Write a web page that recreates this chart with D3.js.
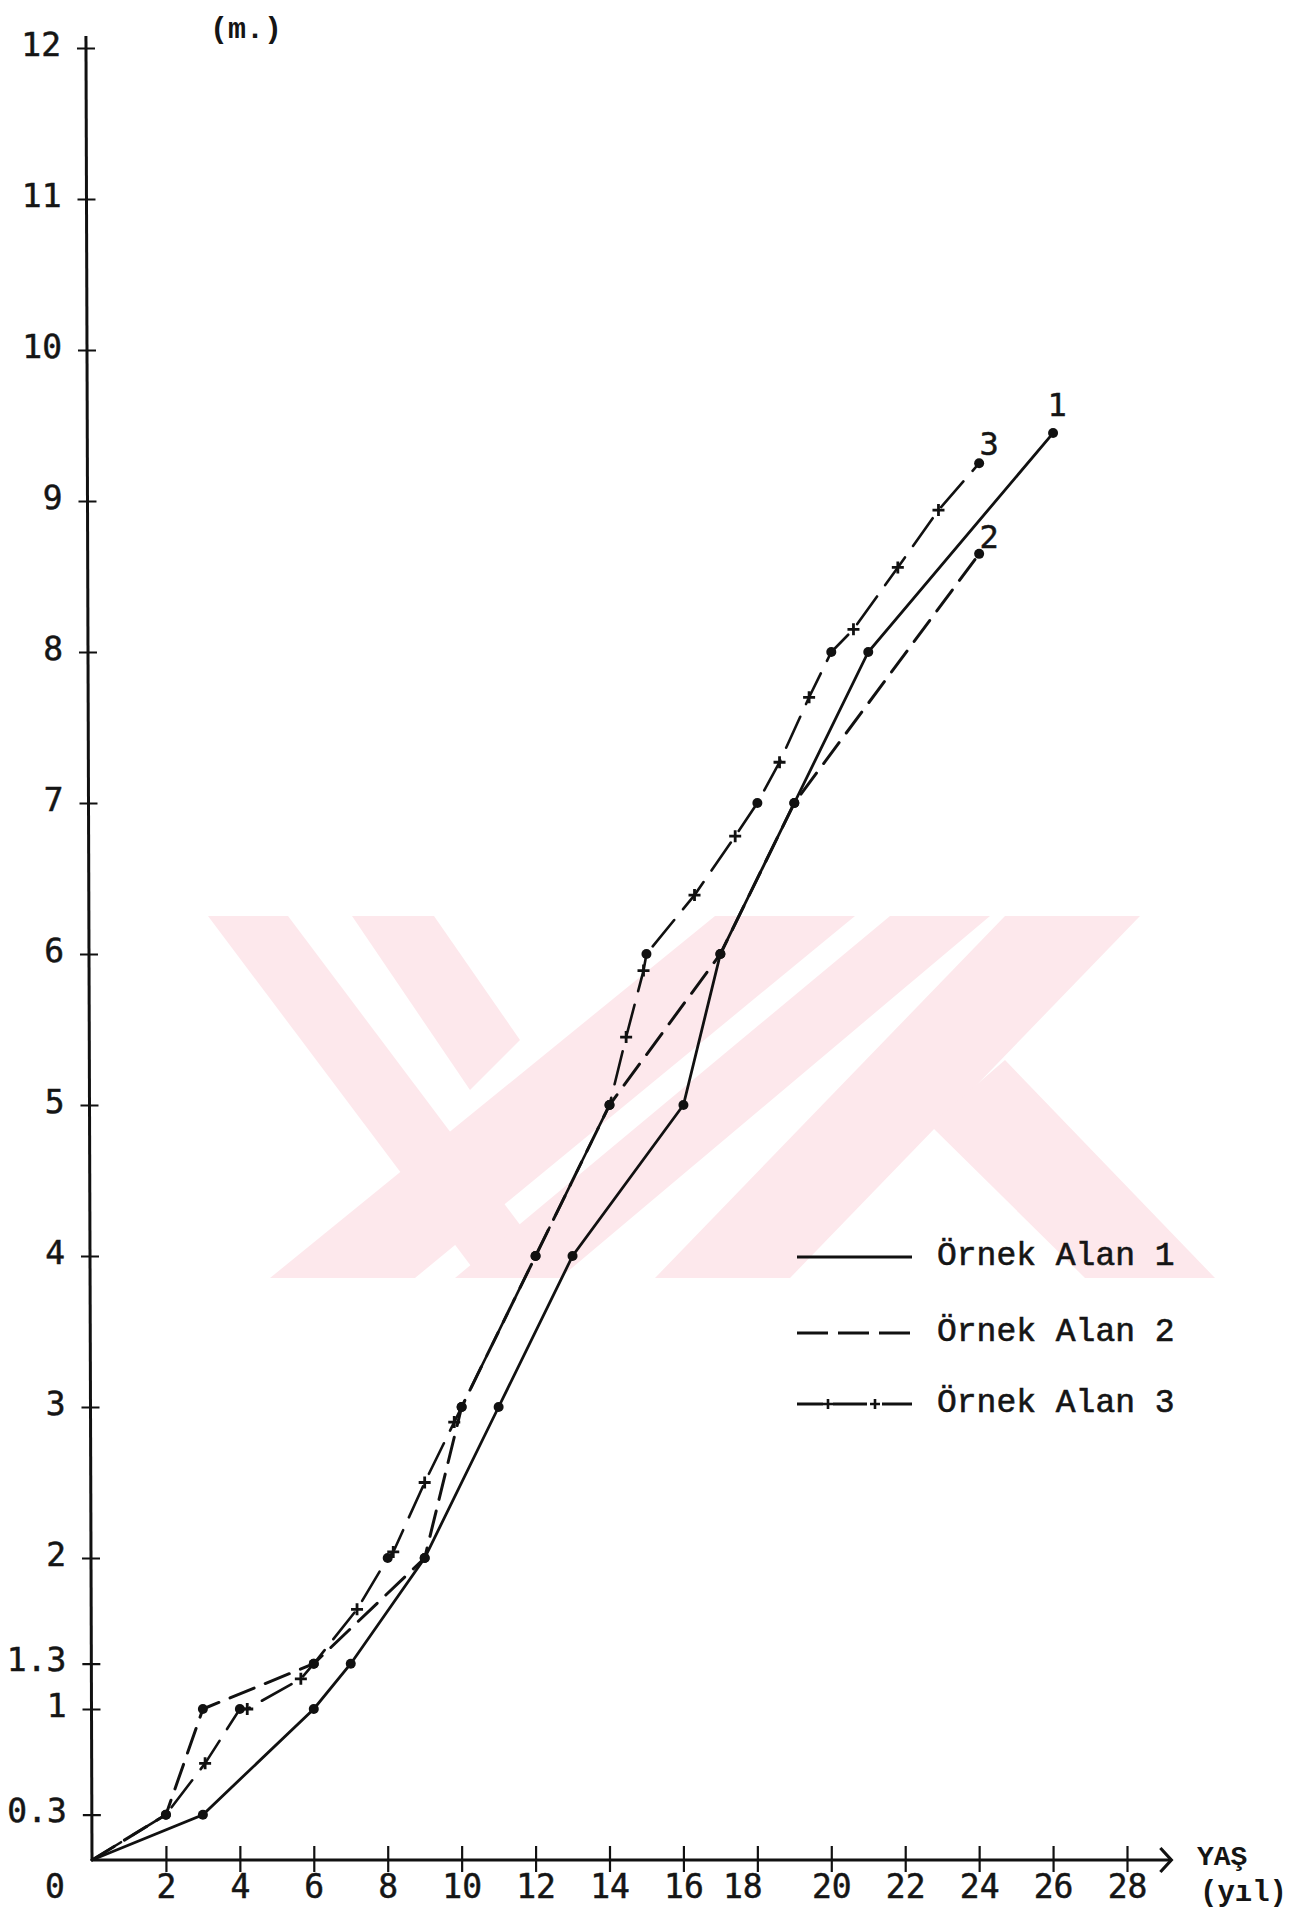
<!DOCTYPE html>
<html>
<head>
<meta charset="utf-8">
<script src="https://cdn.jsdelivr.net/npm/d3@7"></script>
<style>
  body { margin: 0; background: #fff; }
  svg text { fill: #151515; }
</style>
</head>
<body>
<svg id="chart"></svg>
<script>
// boy (m.) - yas (yil) egrileri, 3 ornek alan

const alan1Yas = [0, 3, 6, 7, 9, 11, 13, 16, 17, 19, 21, 26];
const alan1Boy = [0, 0.3, 1, 1.3, 2, 3, 4, 5, 6, 7, 8, 9.45];

const alan2Yas = [0, 2, 3, 6, 9, 10, 12, 14, 17, 19, 24];
const alan2Boy = [0, 0.3, 1, 1.3, 2, 3, 4, 5, 6, 7, 8.65];

const alan3Yas = [0, 2, 3.06, 4, 4.2, 5.65, 6, 7.17, 8, 8.15, 9, 9.8, 10, 12, 14, 14.45, 14.92, 15, 16.3, 17.4, 18, 18.6, 19.4, 20, 20.6, 21.8, 22.9, 24];
const alan3Boy = [0, 0.3, 0.64, 1, 1.0, 1.2, 1.3, 1.66, 2, 2.04, 2.5, 2.9, 3, 4, 5, 5.45, 5.89, 6, 6.39, 6.78, 7, 7.27, 7.7, 8, 8.15, 8.56, 8.94, 9.25];
// "o" = olcum noktasi, "+" = cizgi isareti
const alan3Isaret = ["", "o", "+", "o", "+", "+", "o", "+", "o", "+", "+", "+", "o", "o", "o", "+", "+", "o", "+", "+", "o", "+", "+", "o", "+", "+", "+", "o"];

const xTicks = [2, 4, 6, 8, 10, 12, 14, 16, 18, 20, 22, 24, 26, 28];
const yTicks = [0.3, 1, 1.3, 2, 3, 4, 5, 6, 7, 8, 9, 10, 11, 12];
const yTickLabels = ["0.3", "1", "1.3", "2", "3", "4", "5", "6", "7", "8", "9", "10", "11", "12"];
const legendLabels = ["Örnek Alan 1", "Örnek Alan 2", "Örnek Alan 3"];
const endLabels = ["1", "2", "3"];

const W = 1307, H = 1916;
const mono = "'DejaVu Sans Mono', monospace";
const courier = "'Liberation Mono', 'Courier New', monospace";

let svg = d3.select("#chart")
  .attr("width", W)
  .attr("height", H);

svg.append("rect").attr("width", W).attr("height", H).attr("fill", "#fff");

let x = d3.scaleLinear().domain([0, 28]).range([92, 1127]);
let y = d3.scaleLinear().domain([0, 12]).range([1860, 48]);

// watermark (pembe seritler)
let wm = svg.append("g").attr("fill", "#fde8ec");
const wmBands = [
  [[208, 916], [288, 916], [560, 1278], [480, 1278]],
  [[352, 916], [434, 916], [520, 1040], [470, 1090]],
  [[715, 916], [855, 916], [415, 1278], [270, 1278]],
  [[890, 916], [990, 916], [560, 1278], [455, 1278]],
  [[1005, 916], [1140, 916], [790, 1278], [655, 1278]],
  [[930, 1125], [1005, 1060], [1215, 1278], [1085, 1278]]
];
wm.selectAll("polygon").data(wmBands).join("polygon")
  .attr("points", d => d.map(p => p.join(",")).join(" "));

// eksenler
let xAxis = svg.append("g")
  .attr("transform", `translate(0,${y(0)})`)
  .call(d3.axisBottom(x).tickValues(xTicks).tickSize(12));
xAxis.select(".domain").remove();
xAxis.selectAll(".tick line").attr("y1", -14).attr("y2", 12)
  .attr("stroke", "#111").attr("stroke-width", 2.2);
xAxis.selectAll(".tick text")
  .attr("y", 38).attr("dy", 0)
  .attr("dx", d => d == 18 ? -15 : 0)
  .attr("font-family", mono).attr("font-size", 33)
  .attr("stroke", "#151515").attr("stroke-width", 0.5);

svg.append("line")
  .attr("x1", x(0)).attr("x2", x(29.2))
  .attr("y1", y(0)).attr("y2", y(0))
  .attr("stroke", "#111").attr("stroke-width", 3.2);
svg.append("path")
  .attr("d", `M${x(29.2) - 11},${y(0) - 12} L${x(29.2)},${y(0)} L${x(29.2) - 11},${y(0) + 12}`)
  .attr("fill", "none").attr("stroke", "#111").attr("stroke-width", 3.2);

let yAxis = svg.append("g")
  .attr("transform", `translate(${x(0)},${y(0)}) skewX(0.19) translate(0,${-y(0)})`)
  .call(d3.axisLeft(y).tickValues(yTicks).tickFormat((d, i) => yTickLabels[i]).tickSize(9).tickPadding(16));
yAxis.select(".domain").remove();
yAxis.selectAll(".tick line").attr("x1", -9).attr("x2", 9)
  .attr("stroke", "#111").attr("stroke-width", 2.2);
yAxis.selectAll(".tick text").attr("font-family", mono).attr("font-size", 33).attr("dy", "0.22em")
  .attr("stroke", "#151515").attr("stroke-width", 0.5);
yAxis.append("line")
  .attr("x1", 0).attr("x2", 0).attr("y1", y(0)).attr("y2", y(12.08))
  .attr("stroke", "#111").attr("stroke-width", 3);

svg.append("text").text("0")
  .attr("x", x(0) - 37).attr("y", 1898)
  .attr("text-anchor", "middle")
  .attr("font-family", mono).attr("font-size", 33)
  .attr("stroke", "#151515").attr("stroke-width", 0.5);

svg.append("text").text("(m.)")
  .attr("x", 210).attr("y", 38)
  .attr("font-family", courier).attr("font-weight", "bold").attr("font-size", 30);

svg.append("text").text("YAŞ")
  .attr("x", 1197).attr("y", 1865)
  .attr("font-family", courier).attr("font-weight", "bold").attr("font-size", 28);
svg.append("text").text("(yıl)")
  .attr("x", 1200).attr("y", 1901)
  .attr("font-family", courier).attr("font-weight", "bold").attr("font-size", 29);

// seriler
let line = d3.line().x(d => x(d[0])).y(d => y(d[1]));

let s1 = d3.zip(alan1Yas, alan1Boy);
let s2 = d3.zip(alan2Yas, alan2Boy);
let s3 = d3.zip(alan3Yas, alan3Boy, alan3Isaret);

let lines = svg.append("g").attr("fill", "none").attr("stroke", "#111").attr("stroke-linecap", "round");

lines.append("path").attr("d", line(s1)).attr("stroke-width", 2.8);
lines.append("path").attr("d", line(s2)).attr("stroke-width", 3)
  .attr("stroke-dasharray", "26,12");
lines.append("path").attr("d", line(s3)).attr("stroke-width", 2.6)
  .attr("stroke-dasharray", "34,14");

let dots = svg.append("g").attr("fill", "#111");
dots.selectAll(".d1").data(s1.slice(1)).join("circle")
  .attr("cx", d => x(d[0])).attr("cy", d => y(d[1])).attr("r", 5);
dots.selectAll(".d2").data(s2.slice(1)).join("circle")
  .attr("cx", d => x(d[0])).attr("cy", d => y(d[1])).attr("r", 5);
dots.selectAll(".d3").data(s3.filter(d => d[2] == "o")).join("circle")
  .attr("cx", d => x(d[0])).attr("cy", d => y(d[1])).attr("r", 5);

let crosses = svg.append("g").attr("stroke", "#111").attr("stroke-width", 2.8);
crosses.selectAll("path").data(s3.filter(d => d[2] == "+")).join("path")
  .attr("d", d => `M${x(d[0]) - 6},${y(d[1])} h12 M${x(d[0])},${y(d[1]) - 6} v12`);

// egri uclari
let ends = [s1[s1.length - 1], s2[s2.length - 1], s3[s3.length - 1]];
let endOffset = [[4, -17], [10, -6], [10, -8]];
svg.selectAll(".endlab").data(ends).join("text")
  .attr("x", (d, i) => x(d[0]) + endOffset[i][0])
  .attr("y", (d, i) => y(d[1]) + endOffset[i][1])
  .attr("text-anchor", "middle")
  .attr("font-family", mono).attr("font-size", 32)
  .attr("stroke", "#151515").attr("stroke-width", 0.5)
  .text((d, i) => endLabels[i]);

// lejant
let legend = svg.append("g").attr("transform", "translate(797,0)");
let legendY = [1257, 1333, 1404];
let legendDash = ["none", "31,10", "26,10,34,15,31"];
legend.selectAll("line").data(legendLabels).join("line")
  .attr("x1", 0).attr("x2", 115)
  .attr("y1", (d, i) => legendY[i]).attr("y2", (d, i) => legendY[i])
  .attr("stroke", "#111").attr("stroke-width", 2.8)
  .attr("stroke-dasharray", (d, i) => legendDash[i]);
legend.selectAll(".lc").data([31, 78]).join("path")
  .attr("d", d => `M${d - 5},${legendY[2]} h10 M${d},${legendY[2] - 5} v10`)
  .attr("stroke", "#111").attr("stroke-width", 2.6);
legend.selectAll("text").data(legendLabels).join("text")
  .attr("x", 140)
  .attr("y", (d, i) => legendY[i] + 8)
  .attr("font-family", courier).attr("font-size", 33)
  .attr("stroke", "#151515").attr("stroke-width", 0.6)
  .text(d => d);
</script>
</body>
</html>
